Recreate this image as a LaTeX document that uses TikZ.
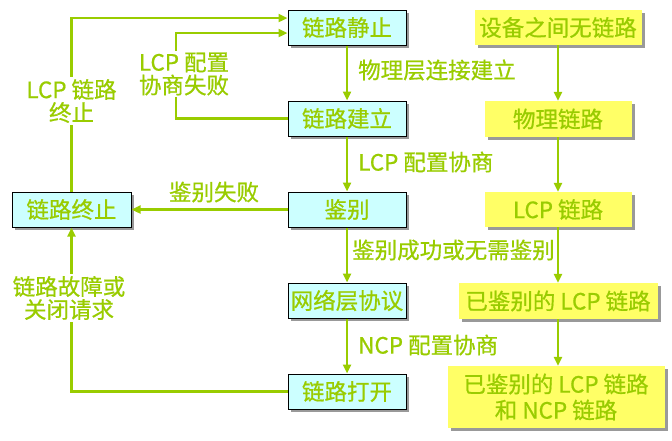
\documentclass[tikz,border=0pt]{standalone}
\usepackage{fontspec}
\setmainfont{Noto Sans CJK SC}[FakeBold=0.7]
\usetikzlibrary{shadows,arrows.meta}
\definecolor{lg}{HTML}{99CC00}
\definecolor{cy}{HTML}{CCFFFF}
\definecolor{ye}{HTML}{FFFF66}
\begin{document}
\begin{tikzpicture}[x=1pt,y=-1pt,
  every node/.style={font=\fontsize{22.5}{23}\selectfont, text=lg},
  cbox/.style={draw=black, line width=1pt, fill=cy, minimum height=35pt, minimum width=118pt, inner sep=0pt,
    drop shadow={shadow xshift=3pt, shadow yshift=-3pt, fill=gray!80, opacity=1}},
  ybox/.style={fill=ye, minimum height=35pt, inner sep=0pt, align=center,
    drop shadow={shadow xshift=3pt, shadow yshift=-3pt, fill=gray!80, opacity=1}},
  arr/.style={draw=lg, line width=2.3pt, -{Triangle[length=9pt,width=8pt]}},
  lbl/.style={fill=white, inner sep=2pt, align=center},
  elbl/.style={inner sep=0pt, anchor=west}]
\useasboundingbox (0,0) rectangle (672,440);
% left column boxes
\node[cbox] (quiet) at (347,27.5) {链路静止};
\node[cbox] (est)   at (347,118.5) {链路建立};
\node[cbox] (auth)  at (347,209.5) {鉴别};
\node[cbox] (net)   at (347,300.5) {网络层协议};
\node[cbox] (open)  at (347,391.5) {链路打开};
\node[cbox, minimum width=119pt] (term) at (71.5,209.5) {链路终止};
% right column boxes
\node[ybox, minimum width=167pt] (y1) at (558,27.5) {设备之间无链路};
\node[ybox, minimum width=147pt, minimum height=36pt] (y2) at (558,119) {物理链路};
\node[ybox, minimum width=147pt] (y3) at (558,209.5) {LCP 链路};
\node[ybox, minimum width=199pt, minimum height=36pt] (y4) at (558,301) {已鉴别的 LCP 链路};
\node[ybox, minimum width=217pt, minimum height=62pt, font=\fontsize{22.5}{26}\selectfont] (y5) at (556,397) {已鉴别的 LCP 链路\\和 NCP 链路};
% coordinates
\coordinate (c1) at (71.5,18);
\coordinate (c2) at (176,118.5);
\coordinate (c3) at (176,33);
\coordinate (c4) at (71.5,391.5);
% main column arrows
\draw[arr] (quiet) -- (est);
\draw[arr] (est) -- (auth);
\draw[arr] (auth) -- (net);
\draw[arr] (net) -- (open);
% right column arrows
\draw[arr] (y1) -- (y2);
\draw[arr] (y2) -- (y3);
\draw[arr] (y3) -- (y4);
\draw[arr] (y4.south) -- (y4.south |- y5.north);
% loops
\draw[arr] (term.north) -- (c1) -- (quiet.west |- c1);
\draw[arr] (est.west) -- (c2) -- (c3) -- (quiet.west |- c3);
\draw[arr] (auth.west) -- (term.east);
\draw[arr] (open.west) -- (c4) -- (term.south);
% labels
\node[lbl] (l1) at (71.5,101) {LCP 链路\\终止};
\node[lbl] (l2) at (184,74) {LCP 配置\\协商失败};
\node[lbl] (l3) at (69,298) {链路故障或\\关闭请求};
\node[inner sep=0pt] (l4) at (214,192) {鉴别失败};
\node[elbl] (l5) at (358,70) {物理层连接建立};
\node[elbl] (l6) at (358,162) {LCP 配置协商};
\node[elbl] (l7) at (352,250) {鉴别成功或无需鉴别};
\node[elbl] (l8) at (358,345) {NCP 配置协商};
\end{tikzpicture}
\end{document}
